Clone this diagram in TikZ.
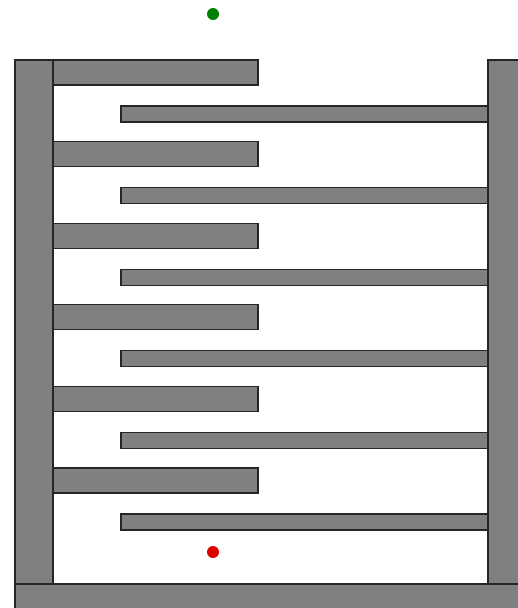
\documentclass[tikz,border=0pt]{standalone}
\begin{document}
\begin{tikzpicture}[x=1pt,y=-1pt,
  wall/.style={fill={rgb,255:red,128;green,128;blue,128},draw=black!85,line width=1.3pt},
  dot/.style={circle,inner sep=0pt,minimum size=12pt}]
\useasboundingbox (0,0) rectangle (518,608);
\clip (0,0) rectangle (518,608);
% left wall
\draw[wall] (15,60) rectangle (53,584);
% right wall
\draw[wall] (488,60) rectangle (530,584);
% left arms
\foreach \k in {0,...,5}{
  \draw[wall] (53,{60+81.6*\k}) rectangle (258,{85+81.6*\k});
}
% right arms
\foreach \k in {0,...,5}{
  \draw[wall] (121,{106+81.6*\k}) rectangle (488,{122+81.6*\k});
}
% bottom
\draw[wall] (15,584) rectangle (530,620);
% dots
\node[dot,fill={rgb,255:red,0;green,128;blue,0}] (start) at (213,14) {};
\node[dot,fill={rgb,255:red,220;green,0;blue,0}] (goal) at (213,552) {};
\end{tikzpicture}
\end{document}
